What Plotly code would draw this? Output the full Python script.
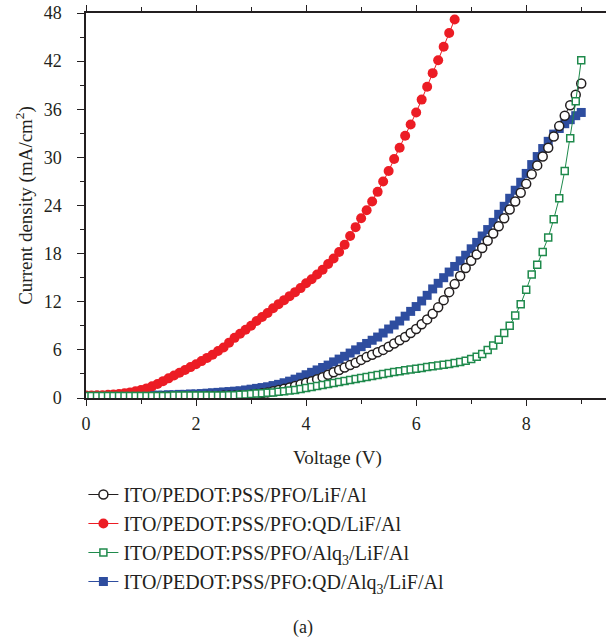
import plotly.graph_objects as go

voltage = [0.0, 0.1, 0.2, 0.3, 0.4, 0.5, 0.6, 0.7, 0.8, 0.9,
           1.0, 1.1, 1.2, 1.3, 1.4, 1.5, 1.6, 1.7, 1.8, 1.9,
           2.0, 2.1, 2.2, 2.3, 2.4, 2.5, 2.6, 2.7, 2.8, 2.9,
           3.0, 3.1, 3.2, 3.3, 3.4, 3.5, 3.6, 3.7, 3.8, 3.9,
           4.0, 4.1, 4.2, 4.3, 4.4, 4.5, 4.6, 4.7, 4.8, 4.9,
           5.0, 5.1, 5.2, 5.3, 5.4, 5.5, 5.6, 5.7, 5.8, 5.9,
           6.0, 6.1, 6.2, 6.3, 6.4, 6.5, 6.6, 6.7, 6.8, 6.9,
           7.0, 7.1, 7.2, 7.3, 7.4, 7.5, 7.6, 7.7, 7.8, 7.9,
           8.0, 8.1, 8.2, 8.3, 8.4, 8.5, 8.6, 8.7, 8.8, 8.9,
           9.0]

j_pfo = [0.1, 0.1, 0.1, 0.1, 0.1, 0.1, 0.1, 0.1, 0.1, 0.1,
         0.1, 0.1, 0.1, 0.1, 0.15, 0.15, 0.15, 0.15, 0.2, 0.2,
         0.2, 0.2, 0.25, 0.25, 0.25, 0.3, 0.3, 0.3, 0.35, 0.35,
         0.4, 0.5, 0.6, 0.7, 0.85, 1.0, 1.15, 1.3, 1.5, 1.7,
         1.9, 2.1, 2.35, 2.6, 2.9, 3.2, 3.5, 3.8, 4.1, 4.4,
         4.75, 5.1, 5.4, 5.7, 6.0, 6.4, 6.8, 7.2, 7.6, 8.1,
         8.6, 9.2, 9.8, 10.5, 11.3, 12.2, 13.2, 14.2, 15.2, 16.2,
         17.1, 17.9, 18.7, 19.6, 20.5, 21.4, 22.4, 23.5, 24.5, 25.6,
         26.7, 27.9, 29.0, 30.1, 31.2, 32.6, 33.9, 35.2, 36.5, 37.8,
         39.2]

j_pfo_qd = [0.3, 0.3, 0.35, 0.35, 0.4, 0.45, 0.5, 0.6, 0.7, 0.85,
            1.0, 1.2, 1.45, 1.75, 2.1, 2.45, 2.8, 3.15, 3.5, 3.85,
            4.2, 4.6, 5.0, 5.4, 5.85, 6.3, 6.9, 7.5, 8.0, 8.5,
            9.0, 9.6, 10.1, 10.6, 11.2, 11.7, 12.2, 12.7, 13.2, 13.7,
            14.3, 14.8, 15.4, 16.0, 16.7, 17.4, 18.2, 19.1, 20.2, 21.3,
            22.4, 23.4, 24.5, 25.7, 27.0, 28.3, 29.8, 31.2, 32.7, 34.1,
            35.6, 37.2, 38.8, 40.5, 42.1, 43.8, 45.5, 47.2]

j_pfo_alq = [0.25, 0.25, 0.25, 0.25, 0.25, 0.25, 0.25, 0.25, 0.25, 0.25,
             0.25, 0.25, 0.25, 0.25, 0.25, 0.25, 0.3, 0.3, 0.3, 0.3,
             0.3, 0.3, 0.3, 0.3, 0.3, 0.3, 0.35, 0.35, 0.4, 0.45,
             0.5, 0.55, 0.6, 0.65, 0.7, 0.78, 0.85, 0.92, 1.0, 1.12,
             1.25, 1.37, 1.5, 1.62, 1.75, 1.87, 2.0, 2.12, 2.25, 2.37,
             2.5, 2.62, 2.75, 2.87, 3.0, 3.12, 3.25, 3.35, 3.45, 3.55,
             3.65, 3.75, 3.85, 3.95, 4.05, 4.15, 4.25, 4.35, 4.5, 4.65,
             4.85, 5.15, 5.5, 6.0, 6.55, 7.25, 8.1, 9.0, 10.3, 11.7,
             13.5, 15.4, 16.6, 18.2, 20.0, 22.3, 24.9, 28.3, 32.4, 37.0,
             42.1]

j_pfo_qd_alq = [0.2, 0.2, 0.2, 0.2, 0.2, 0.25, 0.25, 0.25, 0.3, 0.3,
                0.3, 0.3, 0.35, 0.35, 0.35, 0.4, 0.4, 0.45, 0.45, 0.5,
                0.5, 0.55, 0.6, 0.65, 0.7, 0.75, 0.8, 0.85, 0.9, 1.0,
                1.1, 1.2, 1.3, 1.4, 1.55, 1.7, 1.9, 2.1, 2.35, 2.6,
                2.9, 3.2, 3.5, 3.8, 4.1, 4.5, 4.85, 5.2, 5.6, 6.0,
                6.4, 6.8, 7.2, 7.6, 8.1, 8.6, 9.1, 9.6, 10.2, 10.8,
                11.4, 12.1, 12.8, 13.6, 14.3, 15.0, 15.7, 16.4, 17.1, 17.8,
                18.6, 19.4, 20.2, 21.0, 21.9, 22.9, 23.9, 24.9, 25.9, 26.9,
                28.0, 29.1, 30.1, 31.1, 32.0, 32.9, 33.6, 34.2, 34.7, 35.2,
                35.6]

names = ["ITO/PEDOT:PSS/PFO/LiF/Al",
         "ITO/PEDOT:PSS/PFO:QD/LiF/Al",
         "ITO/PEDOT:PSS/PFO/Alq<sub>3</sub>/LiF/Al",
         "ITO/PEDOT:PSS/PFO:QD/Alq<sub>3</sub>/LiF/Al"]

BLACK = "#231f20"
RED = "#ec1c24"
GREEN = "#1f8a4c"
BLUE = "#2e4d9f"
FONT = "Liberation Serif"

fig = go.Figure()

# drawing order: blue, red, black, green (legend order fixed via legendrank)
fig.add_trace(go.Scatter(
    x=voltage, y=j_pfo_qd_alq, name=names[3], mode="lines+markers",
    line=dict(color=BLUE, width=1),
    marker=dict(symbol="square", size=9, color=BLUE, line=dict(width=0)),
    legendrank=4))
fig.add_trace(go.Scatter(
    x=voltage[:len(j_pfo_qd)], y=j_pfo_qd, name=names[1], mode="lines+markers",
    line=dict(color=RED, width=1),
    marker=dict(symbol="circle", size=10, color=RED, line=dict(width=0)),
    legendrank=2))
fig.add_trace(go.Scatter(
    x=voltage, y=j_pfo, name=names[0], mode="lines+markers",
    line=dict(color=BLACK, width=1),
    marker=dict(symbol="circle", size=9, color="white", line=dict(width=1.5, color=BLACK)),
    legendrank=1))
fig.add_trace(go.Scatter(
    x=voltage, y=j_pfo_alq, name=names[2], mode="lines+markers",
    line=dict(color=GREEN, width=1),
    marker=dict(symbol="square", size=7, color="white", line=dict(width=1.5, color=GREEN)),
    legendrank=3))

fig.update_layout(
    width=606, height=638,
    margin=dict(l=86, r=0, t=13, b=240),
    paper_bgcolor="white", plot_bgcolor="white",
    font=dict(family=FONT, size=18, color=BLACK),
    showlegend=True,
    legend=dict(x=-0.005, xanchor="left", y=-0.2, yanchor="top",
                font=dict(family=FONT, size=20, color=BLACK),
                bgcolor="rgba(0,0,0,0)", tracegroupgap=0, itemwidth=30),
    xaxis=dict(range=[0, 9.45], showgrid=False, zeroline=False,
               showline=True, linecolor=BLACK, linewidth=1.5, mirror="ticks",
               ticks="outside", ticklen=6, tickwidth=1.2, tickcolor=BLACK,
               tickvals=[0, 2, 4, 6, 8], ticklabelstandoff=3,
               tickfont=dict(family=FONT, size=18, color=BLACK),
               minor=dict(tickvals=[1, 3, 5, 7, 9], ticks="outside", ticklen=4,
                          tickwidth=1, tickcolor=BLACK, showgrid=False)),
    yaxis=dict(range=[0, 48], showgrid=False, zeroline=False,
               showline=True, linecolor=BLACK, linewidth=1.5,
               ticks="outside", ticklen=7, tickwidth=1.2, tickcolor=BLACK,
               tickvals=[0, 6, 12, 18, 24, 30, 36, 42, 48], ticklabelstandoff=12,
               tickfont=dict(family=FONT, size=18, color=BLACK),
               title=dict(text="Current density (mA/cm<sup>2</sup>)",
                          font=dict(family=FONT, size=19, color=BLACK), standoff=6),
               minor=dict(tickvals=[3, 9, 15, 21, 27, 33, 39, 45], ticks="outside",
                          ticklen=4, tickwidth=1, tickcolor=BLACK, showgrid=False)),
    annotations=[
        dict(text="Voltage (V)", xref="paper", yref="paper", x=0.483, y=-0.155,
             xanchor="center", yanchor="middle", showarrow=False,
             font=dict(family=FONT, size=19, color=BLACK)),
        dict(text="(a)", xref="paper", yref="paper", x=0.418, y=-0.597,
             xanchor="center", yanchor="middle", showarrow=False,
             font=dict(family=FONT, size=18, color=BLACK)),
    ],
)

fig.write_html("out.html")
